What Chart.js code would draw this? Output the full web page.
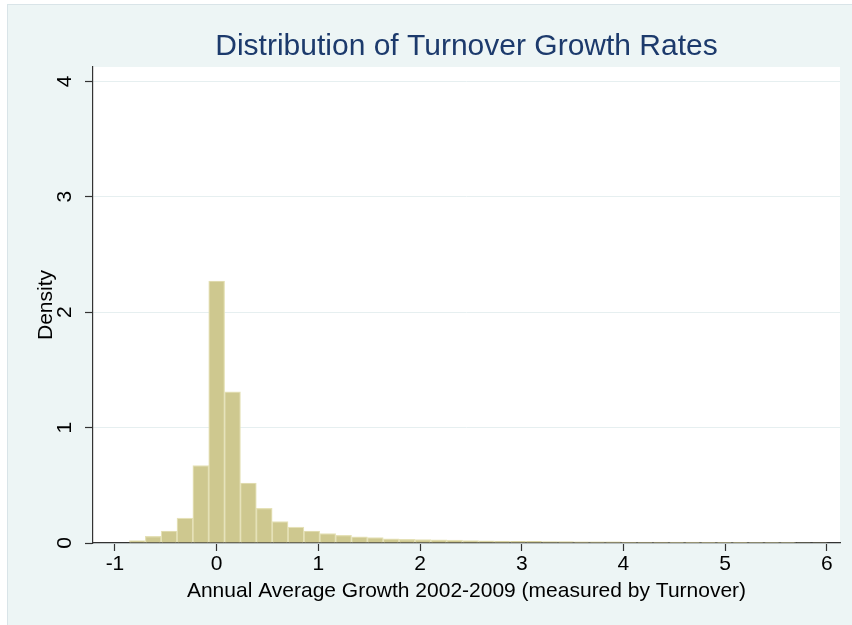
<!DOCTYPE html>
<html>
<head>
<meta charset="utf-8">
<script src="https://cdn.jsdelivr.net/npm/chart.js@4.4.1/dist/chart.umd.min.js"></script>
<style>
  html, body { margin: 0; padding: 0; background: #ffffff; }
  #frame {
    position: absolute; left: 7px; top: 4px;
    border: 1px solid #d9e4e8;
    background: #edf5f5;
  }
  canvas { display: block; }
</style>
</head>
<body>
<div id="frame"><canvas id="histChart" width="844" height="621"></canvas></div>
<script>
// bin centres (width ~0.156) and densities
const binCenters = [
  -0.780, -0.624, -0.468, -0.312, -0.156, 0.000, 0.156, 0.312, 0.468, 0.624,
  0.780, 0.936, 1.092, 1.248, 1.404, 1.560, 1.716, 1.872, 2.028, 2.184,
  2.340, 2.496, 2.652, 2.808, 2.964, 3.120, 3.276, 3.432, 3.588, 3.744,
  3.900, 4.056, 4.212, 4.368, 4.524, 4.680, 4.836, 4.992, 5.148, 5.304,
  5.460, 5.616, 5.772, 5.928
];
const densities = [
  0.020, 0.058, 0.104, 0.216, 0.670, 2.270, 1.310, 0.520, 0.300, 0.185,
  0.138, 0.104, 0.082, 0.066, 0.053, 0.047, 0.036, 0.032, 0.030, 0.027,
  0.025, 0.022, 0.018, 0.016, 0.015, 0.014, 0.013, 0.012, 0.011, 0.010,
  0.010, 0.009, 0.008, 0.008, 0.007, 0.007, 0.006, 0.006, 0.006, 0.005,
  0.005, 0.005, 0.004, 0.004
];
const xTicks = [-1, 0, 1, 2, 3, 4, 5, 6];
const yTicks = [0, 1, 2, 3, 4];

const whitePlot = {
  id: 'whitePlot',
  beforeDraw(chart) {
    const a = chart.chartArea;
    const ctx = chart.ctx;
    ctx.save();
    ctx.fillStyle = '#ffffff';
    ctx.fillRect(a.left, a.top, a.right - a.left, a.bottom - a.top);
    ctx.restore();
  }
};

const font = { family: 'Liberation Sans, Arial, sans-serif', size: 21 };

new Chart(document.getElementById('histChart'), {
  type: 'bar',
  data: {
    datasets: [{
      data: binCenters.map((c, i) => ({ x: c, y: densities[i] })),
      backgroundColor: '#cec88f',
      borderColor: '#e5e1b7',
      borderWidth: 1.2,
      barPercentage: 1,
      categoryPercentage: 1
    }]
  },
  options: {
    responsive: false,
    animation: false,
    layout: { padding: { left: 0, right: 12, top: 0, bottom: 0 } },
    plugins: {
      legend: { display: false },
      tooltip: { enabled: false },
      title: {
        display: true,
        fullSize: false,
        text: 'Distribution of Turnover Growth Rates',
        color: '#1c3a6c',
        font: { family: 'Liberation Sans, Arial, sans-serif', size: 30, weight: 'normal' },
        padding: { top: 24, bottom: 2 }
      }
    },
    scales: {
      x: {
        type: 'linear',
        min: -1.216,
        max: 6.13,
        offset: false,
        afterBuildTicks: (s) => { s.ticks = xTicks.map(v => ({ value: v })); },
        afterFit: (s) => { s.height = 83; },
        grid: { drawOnChartArea: false, offset: false, tickLength: 8, tickColor: '#333333', tickWidth: 1.2 },
        border: { color: '#333333', width: 1.2 },
        ticks: { color: '#000000', font: font, padding: 1, maxRotation: 0 },
        title: {
          display: true,
          text: 'Annual Average Growth 2002-2009 (measured by Turnover)',
          color: '#000000',
          font: font,
          padding: { top: 0, bottom: 22 }
        }
      },
      y: {
        min: 0,
        max: 4.124,
        afterBuildTicks: (s) => { s.ticks = yTicks.map(v => ({ value: v })); },
        afterFit: (s) => { s.width = 85; },
        grid: { color: '#e6eff0', lineWidth: 1, tickLength: 8, tickColor: '#333333', tickWidth: 1.2 },
        border: { color: '#333333', width: 1.2 },
        ticks: { color: '#000000', font: font, padding: 14, minRotation: 90, maxRotation: 90, crossAlign: 'center' },
        title: {
          display: true,
          text: 'Density',
          color: '#000000',
          font: font,
          padding: { top: 26, bottom: 0 }
        }
      }
    }
  },
  plugins: [whitePlot]
});
</script>
</body>
</html>
